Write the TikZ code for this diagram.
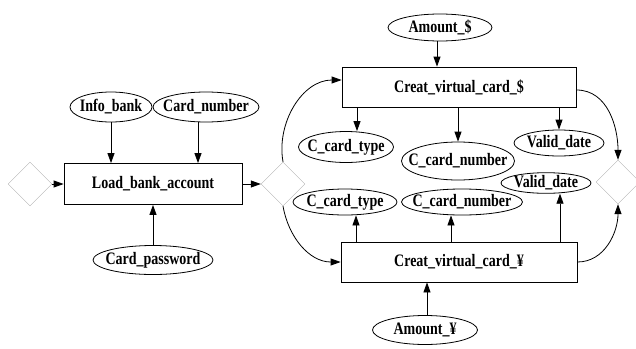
\documentclass[tikz,border=0pt]{standalone}
\usepackage{fontspec}
\setmainfont{Liberation Serif}[FakeStretch=0.8]
\usetikzlibrary{shapes.geometric,arrows.meta}
% label of fixed-size shapes: the text takes no width of its own
\newcommand{\lbl}[1]{\makebox[0pt]{#1}}
\begin{document}
\begin{tikzpicture}[x=1pt,y=-1pt,
  font=\fontsize{17.5}{19}\selectfont\bfseries,
  proc/.style={draw,thick,rectangle,inner sep=0},
  attr/.style={draw,thick,ellipse,inner sep=0},
  gate/.style={draw=black!30,diamond,inner sep=0,minimum width=44pt,minimum height=44pt},
  link/.style={thick,-{Triangle[length=10pt,width=7pt]}}]
\useasboundingbox (0,0) rectangle (636,348);

% gateways
\node[gate] (g1) at (30,184) {};
\node[gate] (g2) at (283,184) {};
\node[gate] (g3) at (618,182) {};

% left activity and its inputs
\node[proc,minimum width=178pt,minimum height=41pt] (load) at (153,184) {\lbl{Load\_bank\_account}};
\node[attr,minimum width=82pt,minimum height=30pt] (info) at (111,107) {\lbl{Info\_bank}};
\node[attr,minimum width=106pt,minimum height=30pt] (cnum) at (206,107) {\lbl{Card\_number}};
\node[attr,minimum width=120pt,minimum height=29pt] (cpw) at (153,260) {\lbl{Card\_password}};

% dollar card
\node[proc,minimum width=234pt,minimum height=40pt] (cvd) at (459,87) {\lbl{Creat\_virtual\_card\_\$}};
\node[attr,minimum width=104pt,minimum height=27pt] (amd) at (440,27.5) {\lbl{Amount\_\$}};
\node[attr,minimum width=95pt,minimum height=31pt] (tyd) at (346,147) {\lbl{C\_card\_type}};
\node[attr,minimum width=113pt,minimum height=38pt] (nud) at (458,161) {\lbl{C\_card\_number}};
\node[attr,minimum width=90pt,minimum height=26pt] (vad) at (559,143) {\lbl{Valid\_date}};

% yuan card
\node[proc,minimum width=236pt,minimum height=40pt] (cvy) at (459,262) {\lbl{Creat\_virtual\_card\_¥}};
\node[attr,minimum width=105pt,minimum height=29pt] (amy) at (425,330) {\lbl{Amount\_¥}};
\node[attr,minimum width=104pt,minimum height=26pt] (tyy) at (345,202) {\lbl{C\_card\_type}};
\node[attr,minimum width=121pt,minimum height=26pt] (nuy) at (462,202) {\lbl{C\_card\_number}};
\node[attr,minimum width=90pt,minimum height=20pt] (vay) at (546,183) {\lbl{Valid\_date}};

% flow
\draw[link] (g1.east) -- (load.west);
\draw[link] (load.east) -- (g2.west);
\draw[link] (info.south) -- (info.south |- load.north);
\draw[link] (198,0 |- cnum.south) -- (198,0 |- load.north);
\draw[link] (cpw.north) -- (cpw.north |- load.south);

\draw[link] (g2.north) to[out=100,in=180] ([yshift=7pt]cvd.west);
\draw[link] (g2.south) to[out=-80,in=180] (cvy.west);
\draw[link] ([yshift=-3pt]cvd.east) to[out=0,in=90] (g3.north);
\draw[link] (cvy.east) to[out=0,in=-90] (g3.south);

\draw[link] (437,0 |- amd.south) -- (437,0 |- cvd.north);
\draw[link] (357,0 |- cvd.south) -- (357,0 |- tyd.north);
\draw[link] (458,0 |- cvd.south) -- (nud.north);
\draw[link] (559,0 |- cvd.south) -- (vad.north);

\draw[link] (427,0 |- amy.north) -- (427,0 |- cvy.south);
\draw[link] (356,0 |- cvy.north) -- (356,0 |- tyy.south);
\draw[link] (451,0 |- cvy.north) -- (451,0 |- nuy.south);
\draw[link] (560,0 |- cvy.north) -- (560,0 |- vay.south);
\end{tikzpicture}
\end{document}
